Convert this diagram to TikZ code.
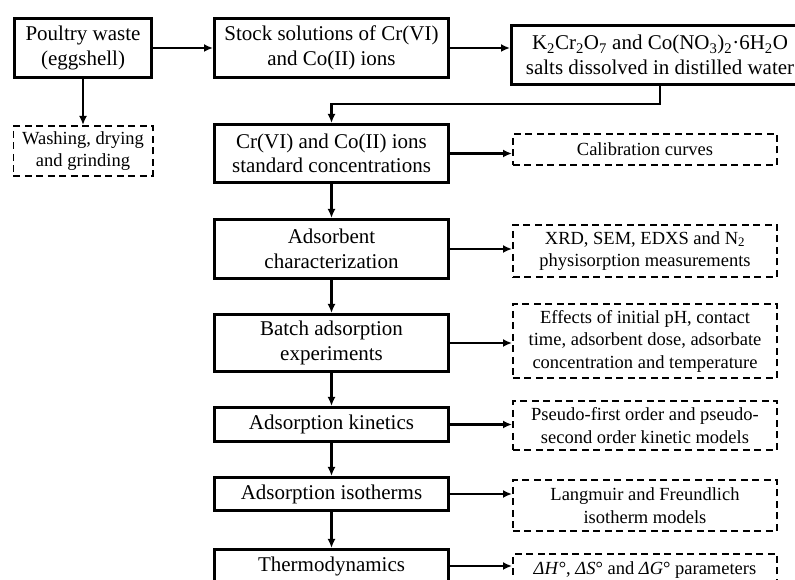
\documentclass[tikz,border=0pt]{standalone}
\usepackage{fontspec}
\setmainfont{Liberation Serif}
\usetikzlibrary{arrows.meta, positioning}

\begin{document}
\begin{tikzpicture}[x=1pt, y=1pt,
  stepbox/.style={draw, rectangle, line width=2.8pt, align=center, inner sep=3pt,
    font=\fontsize{21}{24.5}\selectfont, minimum width=234.2pt},
  notebox/.style={draw, rectangle, line width=1.8pt, dash pattern=on 7pt off 4.5pt,
    align=center, inner sep=3pt, font=\fontsize{18.5}{22.5}\selectfont, minimum width=264.2pt},
  link/.style={line width=2.5pt, -{Latex[length=9pt,width=8pt]}}]
\path[use as bounding box, clip] (0,0) rectangle (795,580);

% Main flow
\node[stepbox, minimum width=137.2pt, minimum height=59.2pt] (waste) at (83,532) {Poultry waste\\(eggshell)};
\node[stepbox, minimum height=59.2pt, right=60pt of waste] (stock) {Stock solutions of Cr(VI)\\and Co(II) ions};
\node[stepbox, minimum width=297.2pt, minimum height=59.2pt] (salts) at (660,525) {K\textsubscript{2}Cr\textsubscript{2}O\textsubscript{7} and Co(NO\textsubscript{3})\textsubscript{2}{\textperiodcentered}6H\textsubscript{2}O\\salts dissolved in distilled water};
\node[notebox, minimum width=139.2pt, minimum height=50.2pt, below=46pt of waste] (wash) {Washing, drying\\and grinding};
\node[stepbox, minimum height=58.2pt, below=44pt of stock] (conc) {Cr(VI) and Co(II) ions\\standard concentrations};
\node[stepbox, minimum height=59.2pt, below=34pt of conc] (charact) {Adsorbent\\characterization};
\node[stepbox, minimum height=57.2pt, below=33pt of charact] (batch) {Batch adsorption\\experiments};
\node[stepbox, minimum height=34.2pt, below=33pt of batch] (kinet) {Adsorption kinetics};
\node[stepbox, minimum height=33.2pt, below=33pt of kinet] (isoth) {Adsorption isotherms};
\node[stepbox, minimum height=33.2pt, below=36pt of isoth] (thermo) {Thermodynamics};

% Side notes
\node[notebox, minimum height=31.2pt] (calib) at (645,430.5) {Calibration curves};
\node[notebox, minimum height=52.2pt] (xrd) at (645,329) {XRD, SEM, EDXS and N\textsubscript{2}\\physisorption measurements};
\node[notebox, minimum height=74.2pt] (effects) at (645,239) {Effects of initial pH, contact\\time, adsorbent dose, adsorbate\\concentration and temperature};
\node[notebox, minimum height=49.2pt] (pseudo) at (645,154.5) {Pseudo-first order and pseudo-\\second order kinetic models};
\node[notebox, minimum height=51.2pt] (models) at (645,74.5) {Langmuir and Freundlich\\isotherm models};
\node[notebox, minimum height=32.2pt] (params) at (645,10) {\textit{ΔH}°, \textit{ΔS}° and \textit{ΔG}° parameters};

% Arrows
\draw[link] (waste) -- (stock);
\draw[link] (stock.east) -- (stock.east -| salts.west);
\draw[link] (waste) -- (wash);
\draw[link] (salts.south) -- ++(0,-18) -| (conc.north);
\draw[link] (conc.east) -- (conc.east -| calib.west);
\draw[link] (conc) -- (charact);
\draw[link] (charact.east) -- (charact.east -| xrd.west);
\draw[link] (charact) -- (batch);
\draw[link] (batch.east) -- (batch.east -| effects.west);
\draw[link] (batch) -- (kinet);
\draw[link] (kinet.east) -- (kinet.east -| pseudo.west);
\draw[link] (kinet) -- (isoth);
\draw[link] (isoth.east) -- (isoth.east -| models.west);
\draw[link] (isoth) -- (thermo);
\draw[link] (thermo.east) -- (thermo.east -| params.west);
\end{tikzpicture}
\end{document}
